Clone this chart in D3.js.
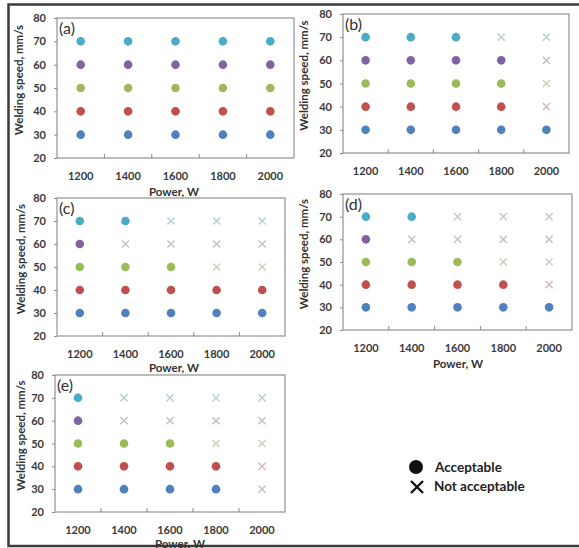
<!DOCTYPE html>
<html>
<head>
<meta charset="utf-8">
<script src="https://cdn.jsdelivr.net/npm/d3@7"></script>
<style>
  body { margin: 0; background: #fff; }
  svg text { font-family: Lato, "Open Sans", sans-serif; }
</style>
</head>
<body>
<div id="chart"></div>
<script>
// data: x categories, y values and acceptability per panel
const powers = [1200, 1400, 1600, 1800, 2000];
const speeds = [30, 40, 50, 60, 70];
const yTicks = [20, 30, 40, 50, 60, 70, 80];

// 1 = acceptable, 0 = not acceptable. rows follow speeds, columns follow powers
const okA = [[1,1,1,1,1],[1,1,1,1,1],[1,1,1,1,1],[1,1,1,1,1],[1,1,1,1,1]];
const okB = [[1,1,1,1,1],[1,1,1,1,0],[1,1,1,1,0],[1,1,1,1,0],[1,1,1,0,0]];
const okC = [[1,1,1,1,1],[1,1,1,1,1],[1,1,1,0,0],[1,0,0,0,0],[1,1,0,0,0]];
const okD = [[1,1,1,1,1],[1,1,1,1,0],[1,1,1,0,0],[1,0,0,0,0],[1,1,0,0,0]];
const okE = [[1,1,1,1,0],[1,1,1,1,0],[1,1,1,0,0],[1,0,0,0,0],[1,0,0,0,0]];

const speedColors = ["#4f81bd", "#c0504d", "#9bbb59", "#8064a2", "#4bacc6"];

// panel placement (plot area boxes)
const panels = [
  {name: "(a)", ok: okA, l: 57,  t: 18,  r: 294, b: 158, ytx: 18,  xt: {x: 174, y: 191}},
  {name: "(b)", ok: okB, l: 343, t: 14,  r: 569, b: 153, ytx: 303, xt: null},
  {name: "(c)", ok: okC, l: 57,  t: 198, r: 285, b: 336, ytx: 20,  xt: {x: 174, y: 367}},
  {name: "(d)", ok: okD, l: 343, t: 194, r: 572, b: 330, ytx: 303, xt: {x: 458, y: 363}},
  {name: "(e)", ok: okE, l: 55,  t: 375, r: 285, b: 512, ytx: 20,  xt: {x: 180, y: 543}}
];

const W = 579, H = 548;
const svg = d3.select("#chart").append("svg")
  .attr("width", W).attr("height", H);

// outer frame (top, left, bottom)
svg.append("path")
  .attr("d", `M${W},4.5 H8.5 V546 H${W}`)
  .attr("fill", "none")
  .attr("stroke", "#3c3c3c")
  .attr("stroke-width", 2.5);

const color = d3.scaleOrdinal().domain(speeds).range(speedColors);
const crossColor = s => d3.interpolateRgb(color(s), "#d4d4d4")(0.8);

panels.forEach(p => {
  const g = svg.append("g");

  const x = d3.scaleBand().domain(powers).range([p.l, p.r]).padding(0);
  const y = d3.scaleLinear().domain([20, 80]).range([p.b, p.t]);

  // plot area box
  g.append("rect")
    .attr("x", p.l).attr("y", p.t)
    .attr("width", p.r - p.l).attr("height", p.b - p.t)
    .attr("fill", "#fff")
    .attr("stroke", "#9a9a9a")
    .attr("stroke-width", 1.3);

  // y axis
  const ya = g.append("g")
    .attr("transform", `translate(${p.l},0)`)
    .call(d3.axisLeft(y).tickValues(yTicks).tickSize(3).tickPadding(8));
  ya.select(".domain").remove();
  ya.selectAll(".tick line").attr("stroke", "#8a8a8a");
  ya.selectAll("text")
    .attr("font-size", 11).attr("font-weight", "bold").attr("fill", "#3a3a3a")
    .attr("font-family", "Lato, sans-serif");

  // x axis labels
  const xa = g.append("g")
    .attr("transform", `translate(0,${p.b})`)
    .call(d3.axisBottom(x).tickSize(0).tickPadding(14));
  xa.select(".domain").remove();
  xa.selectAll("text")
    .attr("font-size", 11).attr("font-weight", "bold").attr("fill", "#3a3a3a")
    .attr("font-family", "Lato, sans-serif");

  // inside ticks between categories
  g.selectAll(".xtick")
    .data(powers.slice(1))
    .join("line")
    .attr("x1", d => x(d)).attr("x2", d => x(d))
    .attr("y1", p.b).attr("y2", p.b - 4)
    .attr("stroke", "#8a8a8a");

  // cells
  const cells = [];
  speeds.forEach((s, i) => powers.forEach((pw, j) => {
    cells.push({speed: s, power: pw, ok: p.ok[i][j]});
  }));
  const cx = d => x(d.power) + x.bandwidth() / 2;

  g.selectAll(".dot")
    .data(cells.filter(d => d.ok))
    .join("circle")
    .attr("cx", cx)
    .attr("cy", d => y(d.speed))
    .attr("r", 4.3)
    .attr("fill", d => color(d.speed));

  const c = 3.6;
  g.selectAll(".cross")
    .data(cells.filter(d => !d.ok))
    .join("path")
    .attr("d", d => {
      const X = cx(d), Y = y(d.speed);
      return `M${X - c},${Y - c}L${X + c},${Y + c}M${X - c},${Y + c}L${X + c},${Y - c}`;
    })
    .attr("stroke", d => crossColor(d.speed))
    .attr("stroke-width", 1.4)
    .attr("fill", "none");

  // panel letter
  g.append("text")
    .attr("x", p.l + 2).attr("y", p.t + 9)
    .attr("dominant-baseline", "central")
    .attr("font-size", 16).attr("fill", "#333")
    .text(p.name);

  // y title
  g.append("text")
    .attr("transform", `translate(${p.ytx},${(p.t + p.b) / 2 - 8}) rotate(-90)`)
    .attr("text-anchor", "middle")
    .attr("dominant-baseline", "central")
    .attr("font-size", 11.5).attr("font-weight", "bold").attr("fill", "#333")
    .text("Welding speed, mm/s");

  // x title
  if (p.xt) {
    g.append("text")
      .attr("x", p.xt.x).attr("y", p.xt.y)
      .attr("text-anchor", "middle")
      .attr("dominant-baseline", "central")
      .attr("font-size", 11.5).attr("font-weight", "bold").attr("fill", "#333")
      .text("Power, W");
  }
});

// legend
const legend = svg.append("g");
legend.append("circle")
  .attr("cx", 416).attr("cy", 467).attr("r", 7)
  .attr("fill", "#111");
legend.append("path")
  .attr("d", "M411,481L423,493M411,493L423,481")
  .attr("stroke", "#111").attr("stroke-width", 2.4);
legend.append("text")
  .attr("x", 435).attr("y", 467)
  .attr("dominant-baseline", "central")
  .attr("font-size", 13.5).attr("font-weight", "bold").attr("fill", "#222")
  .text("Acceptable");
legend.append("text")
  .attr("x", 434).attr("y", 486)
  .attr("dominant-baseline", "central")
  .attr("font-size", 13.5).attr("font-weight", "bold").attr("fill", "#222")
  .text("Not acceptable");
</script>
</body>
</html>
